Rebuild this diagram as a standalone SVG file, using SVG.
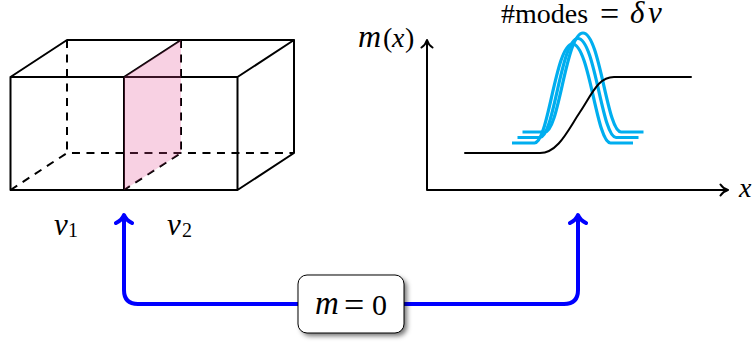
<svg xmlns="http://www.w3.org/2000/svg" width="752" height="345" viewBox="0 0 752 345">
<style>
.l{fill:none;stroke:#000;stroke-width:2;stroke-linecap:round;stroke-linejoin:round}
.d{fill:none;stroke:#000;stroke-width:2;stroke-dasharray:8 6.500}
.c{fill:none;stroke:#00aeef;stroke-width:3.200;stroke-linejoin:round}
.b{fill:none;stroke:#0000ff;stroke-width:4;stroke-linecap:round;stroke-linejoin:round}
.t{font-family:"Liberation Serif","Times New Roman",serif;fill:#000;font-size:28px}
.i{font-style:italic}
.v{font-style:italic;font-size:31px}
.s{font-size:20px;font-style:normal}
.m{font-style:italic;font-size:33px}
</style>
<defs>
<path id="g" d="M-60.500 0H-38C-24 0 -17 -99 0 -99C17 -99 24 0 38 0H60.500"/>
<filter id="f" x="-20%" y="-20%" width="150%" height="150%"><feGaussianBlur stdDeviation="2.500"/></filter>
</defs>
<g id="box">
<path class="d" d="M67 40V153M10.500 190L67 153H294M181 40V153L124 190"/>
<path class="l" d="M10.500 77H237.500V190H10.500ZM10.500 77L67 40H294V153L237.500 190M237.500 77L294 40M124 77V190M124 77L181 40"/>
<path d="M124 77L181 40V153L124 190Z" fill="#e44890" fill-opacity=".25"/>
</g>
<g id="labels">
<text class="t v" x="54" y="235">ν<tspan class="s" x="68" y="237">1</tspan></text>
<text class="t v" x="167" y="235">ν<tspan class="s" x="182" y="237">2</tspan></text>
</g>
<g id="plot">
<path class="l" d="M427 190V41M421.500 47.500Q425.500 45 427 40Q428.500 45 432.500 47.500M427 190H727M720.500 184.500Q723 188.500 728 190Q723 191.500 720.500 195.500"/>
<text class="t" y="47"><tspan class="m" x="358" style="font-size:32px">m</tspan><tspan x="383">(</tspan><tspan class="i" x="392">x</tspan><tspan x="405">)</tspan></text>
<text class="t i" x="739" y="197">x</text>
<text class="t" y="23"><tspan x="501">#modes</tspan><tspan x="600" y="25" style="font-size:34px">=</tspan><tspan class="v" x="630" y="23">δ</tspan><tspan class="v" x="648">ν</tspan></text>
<use href="#g" class="c" x="572.500" y="143"/>
<use href="#g" class="c" x="578" y="137.500"/>
<use href="#g" class="c" x="583" y="132"/>
<path class="l" d="M465 153H540C558 153 568 130 580 112C592 94 598 77 614 77H691"/>
</g>
<g id="connectors">
<path class="b" d="M124 216V290Q124 304 138 304H298M116 223Q122 220 124 215Q126 220 132 223"/>
<path class="b" d="M404 304H564Q578 304 578 290V216M570 223Q576 220 578 215Q580 220 586 223"/>
</g>
<g id="node-m0">
<rect x="301" y="278" width="106" height="58" rx="9" fill="#000" fill-opacity=".55" filter="url(#f)"/>
<rect x="298" y="275" width="106" height="58" rx="9" fill="#fff" stroke="#000" stroke-width="1"/>
<text class="t" y="314"><tspan class="m" x="315">m</tspan><tspan x="344" y="317" style="font-size:36px">=</tspan><tspan x="372" y="315" style="font-size:30px">0</tspan></text>
</g>
</svg>
